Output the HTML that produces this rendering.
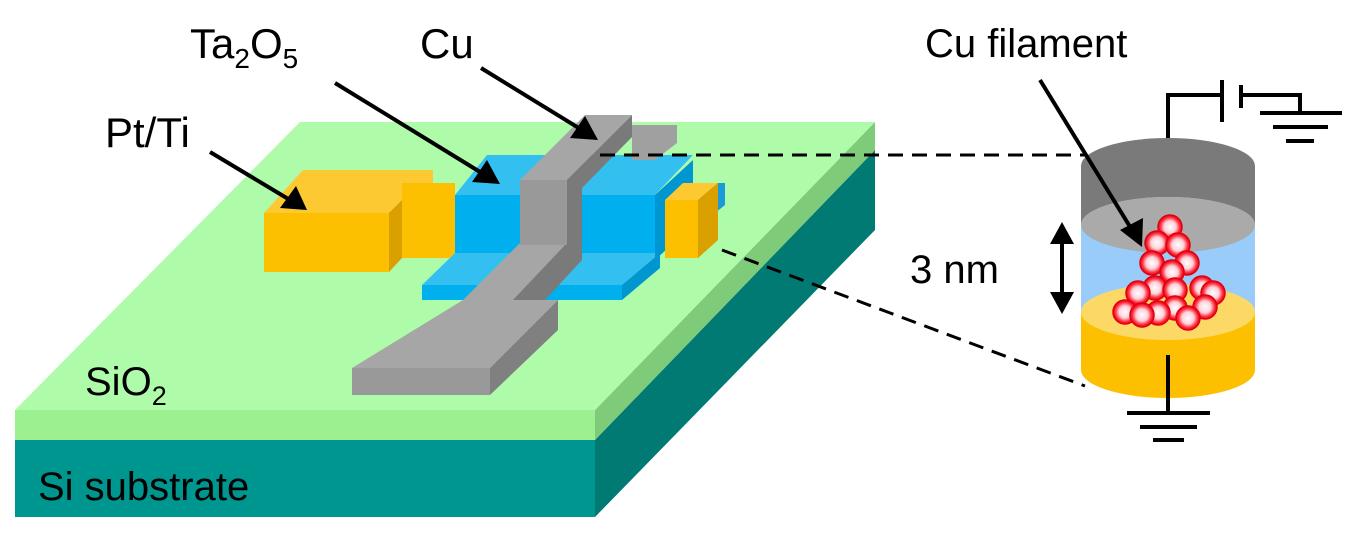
<!DOCTYPE html>
<html><head><meta charset="utf-8"><style>
html,body{margin:0;padding:0;background:#fff;width:1348px;height:536px;overflow:hidden}
text{font-family:"Liberation Sans",Arial,sans-serif;fill:#000}
</style></head><body>
<svg width="1348" height="536" viewBox="0 0 1348 536">
<defs>
<radialGradient id="sph" cx="0.5" cy="0.5" r="0.5">
<stop offset="0" stop-color="#fff"/><stop offset="0.5" stop-color="#ffd0d8"/><stop offset="0.8" stop-color="#ff3040"/><stop offset="1" stop-color="#e00010"/>
</radialGradient>
</defs>
<g>
<polygon points="15,440 595,440 595,517 15,517" fill="#009690"/>
<polygon points="595,440 875,150 875,230 595,517" fill="#007a72"/>
<polygon points="15,410 595,410 595,440 15,440" fill="#9cf090"/>
<polygon points="595,410 875,122 875,150 595,440" fill="#7ecb7a"/>
<polygon points="15,410 300,122 875,122 595,410" fill="#aefcaa"/>
</g>
<g>
<polygon points="264,213 303,170 433,170 433,183 402,213" fill="#fdc933"/>
<polygon points="264,213 389,213 389,272 264,272" fill="#fdc000"/>
<polygon points="389,213 402,200 402,258 389,272" fill="#d9a000"/>
<polygon points="402,183 455,183 455,258 402,258" fill="#fdc000"/>
</g>
<g>
<polygon points="422,285 455,253 660,253 622,285" fill="#33c0f0"/>
<polygon points="422,285 622,285 622,300 422,300" fill="#00b0ee"/>
<polygon points="622,285 660,253 660,268 622,300" fill="#0096d0"/>
<polygon points="455,195 487,155 693,155 655,195" fill="#33c0f0"/>
<polygon points="455,195 655,195 655,253 455,253" fill="#00b0ee"/>
<polygon points="655,195 693,160 693,225 655,260" fill="#0096d0"/>
<polygon points="700,183 725,183 725,205 700,225" fill="#1a9ad6"/>
</g>
<g>
<polygon points="665,200 683,183 718,183 698,200" fill="#fdc933"/>
<polygon points="665,200 698,200 698,258 665,258" fill="#fdc000"/>
<polygon points="698,200 718,183 718,240 698,258" fill="#d9a000"/>
</g>
<g>
<polygon points="632,125 677,125 677,143 655,160 632,160" fill="#a0a0a0"/>
<polygon points="463,300 558,300 490,368 352,368" fill="#a6a6a6"/>
<polygon points="352,368 490,368 490,395 352,395" fill="#999"/>
<polygon points="490,368 558,300 558,330 490,395" fill="#808080"/>
<polygon points="520,243 567,243 513,300 463,300" fill="#a6a6a6"/>
<polygon points="567,243 582,230 582,260 545,300 513,300" fill="#7a7a7a"/>
<polygon points="520,180 585,115 632,115 567,180" fill="#a6a6a6"/>
<polygon points="520,180 567,180 567,245 520,245" fill="#999"/>
<polygon points="567,180 632,115 632,137 582,188 582,230 567,245" fill="#7a7a7a"/>
</g>
<g stroke="#000" stroke-width="3" stroke-dasharray="15,9">
<line x1="600" y1="155" x2="1085" y2="155"/>
<line x1="722" y1="250" x2="1085" y2="386"/>
</g>
<g>
<path d="M1081,370 L1081,312 A87,28 0 0 1 1255,312 L1255,370 A87,28 0 0 1 1081,370 z" fill="#fdc000"/>
<ellipse cx="1168" cy="312" rx="87" ry="28" fill="#fcd966"/>
<path d="M1081,312 L1081,225 A87,28 0 0 1 1255,225 L1255,312 A87,28 0 0 0 1081,312 z" fill="#99ccf8"/>
<path d="M1081,225 L1081,166 A87,28 0 0 1 1255,166 L1255,225 A87,28 0 0 0 1081,225 z" fill="#7a7a7a"/>
<ellipse cx="1168" cy="225" rx="87" ry="28" fill="#aaa"/>
<path d="M1081,225 A87,28 0 0 0 1255,225 L1255,232 A87,28 0 0 1 1081,232z" fill="#99ccf8"/>
</g>
<g id="filament"></g>
<g stroke="#000" stroke-width="4" fill="none">
<polyline points="1168,138 1168,95 1222,95"/>
<line x1="1222" y1="80" x2="1222" y2="122"/>
<line x1="1241" y1="85" x2="1241" y2="108"/>
<polyline points="1241,95 1300,95 1300,113"/>
<line x1="1260" y1="113" x2="1342" y2="113"/>
<line x1="1273" y1="127" x2="1328" y2="127"/>
<line x1="1286" y1="141" x2="1314" y2="141"/>
<line x1="1168" y1="355" x2="1168" y2="413"/>
<line x1="1127" y1="413" x2="1210" y2="413"/>
<line x1="1140" y1="427" x2="1197" y2="427"/>
<line x1="1153" y1="440" x2="1184" y2="440"/>
</g>
<g stroke="#000" stroke-width="4">
<line x1="210" y1="152" x2="290" y2="200"/>
<polygon points="307,210 280,208 296,186" fill="#000" stroke="none"/>
<line x1="335" y1="83" x2="485" y2="175"/>
<polygon points="500,184 472,182 487,160" fill="#000" stroke="none"/>
<line x1="481" y1="68" x2="582" y2="130"/>
<polygon points="598,140 570,138 585,116" fill="#000" stroke="none"/>
<line x1="1040" y1="80" x2="1132" y2="230"/>
<polygon points="1142,247 1120,230 1143,218" fill="#000" stroke="none"/>
<line x1="1062" y1="238" x2="1062" y2="300"/>
<polygon points="1062,222 1050,244 1074,244" fill="#000" stroke="none"/>
<polygon points="1062,314 1050,292 1074,292" fill="#000" stroke="none"/>
</g>
<g>
<text x="190" y="58" font-size="42">Ta<tspan font-size="28" dy="10">2</tspan><tspan dy="-10">O</tspan><tspan font-size="28" dy="10">5</tspan></text>
<text x="420" y="58" font-size="42">Cu</text>
<text x="105" y="147" font-size="42">Pt/Ti</text>
<text x="925" y="57" font-size="40">Cu filament</text>
<text x="910" y="283" font-size="40">3 nm</text>
<text x="85" y="395" font-size="40">SiO<tspan font-size="27" dy="10">2</tspan></text>
<text x="38" y="500" font-size="40">Si substrate</text>
</g>
</svg>
<script>
const atomX=[1170,1157,1178,1152,1187,1172,1138,1155,1175,1202,1213,1125,1142,1158,1175,1205,1188];
const atomY=[227,243,245,263,263,272,293,288,290,288,293,312,315,313,308,307,318];
const g=document.getElementById('filament');
const order=atomY.map((y,i)=>i).sort((a,b)=>atomY[a]-atomY[b]);
order.forEach(i=>{
 const c=document.createElementNS('http://www.w3.org/2000/svg','circle');
 c.setAttribute('cx',atomX[i]);c.setAttribute('cy',atomY[i]);c.setAttribute('r',12);
 c.setAttribute('fill','url(#sph)');c.setAttribute('stroke','#e00010');c.setAttribute('stroke-width','1.5');
 
 
 g.appendChild(c);
});
</script>
</body></html>
